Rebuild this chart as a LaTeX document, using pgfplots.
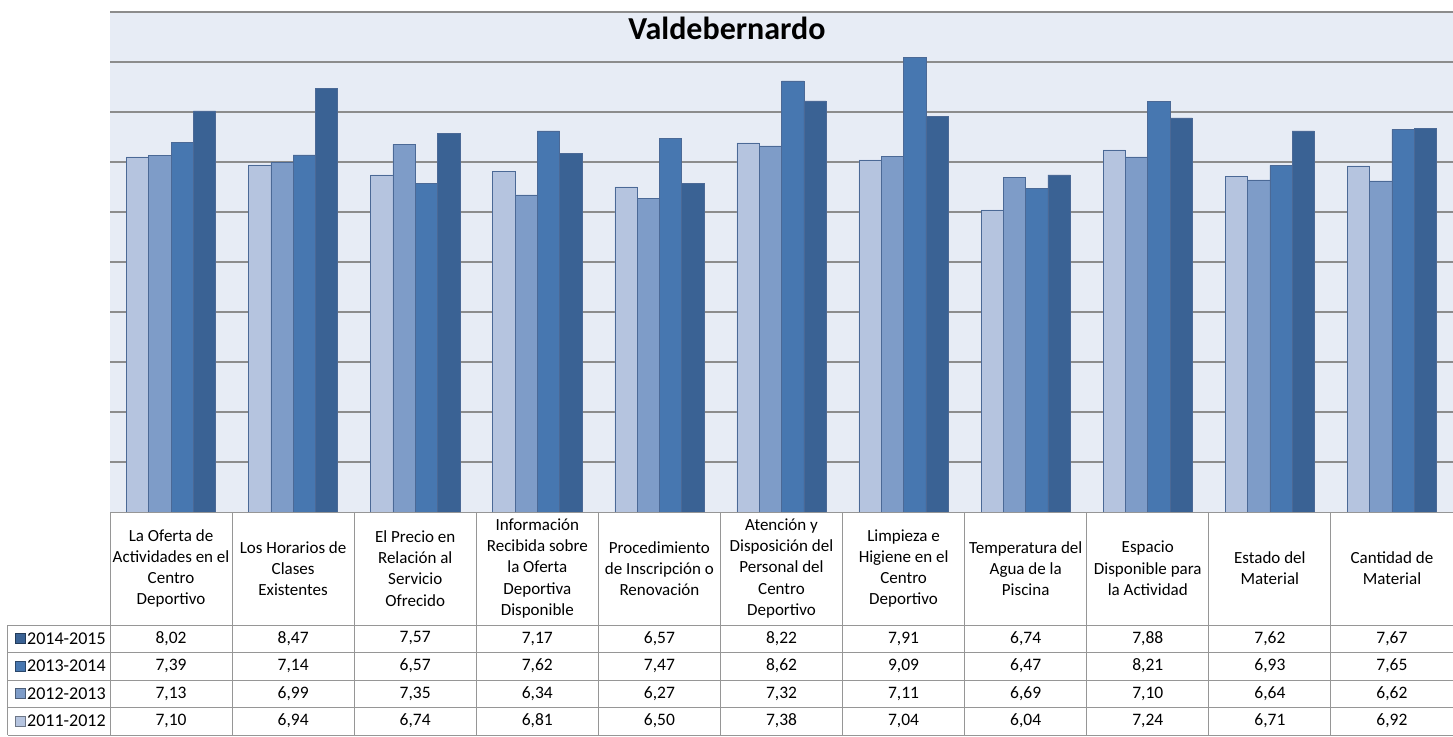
\documentclass[border=0pt]{standalone}
\usepackage{pgfplots}
\usepackage{pgfplotstable}
\pgfplotsset{compat=1.18}
\usepackage{fontspec}
\setmainfont{Carlito}
\definecolor{cA}{RGB}{181,196,223}
\definecolor{cB}{RGB}{126,156,200}
\definecolor{cC}{RGB}{71,119,176}
\definecolor{cD}{RGB}{58,98,148}
\definecolor{bg}{RGB}{231,236,245}
\definecolor{gridc}{RGB}{140,140,140}
\definecolor{tabc}{RGB}{150,150,150}
\definecolor{edge}{RGB}{75,105,150}

\pgfplotstableread{
x  y11  y12  y13  y14
0  7.10 7.13 7.39 8.02
1  6.94 6.99 7.14 8.47
2  6.74 7.35 6.57 7.57
3  6.81 6.34 7.62 7.17
4  6.50 6.27 7.47 6.57
5  7.38 7.32 8.62 8.22
6  7.04 7.11 9.09 7.91
7  6.04 6.69 6.47 6.74
8  7.24 7.10 8.21 7.88
9  6.71 6.64 6.93 7.62
10 6.92 6.62 7.65 7.67
}\datatable

\begin{document}
\begin{tikzpicture}
\path[use as bounding box] (-110pt,-224pt) rectangle (1343pt,512pt);
\begin{axis}[
  at={(0pt,0pt)}, anchor=south west,
  scale only axis, width=1343pt, height=500pt,
  xmin=-0.5, xmax=10.5, ymin=0, ymax=10,
  ybar=0pt, bar width=22.3pt,
  axis background/.style={fill=bg},
  axis line style={draw=none},
  xtick=\empty, ytick={1,...,10}, yticklabels={}, major tick length=0pt,
  ymajorgrids, grid style={gridc, line width=1.3pt},
  clip=false,
  every axis plot/.append style={line width=0.6pt},
]
\addplot[fill=cA, draw=edge] table[x=x,y=y11]{\datatable};
\addplot[fill=cB, draw=edge] table[x=x,y=y12]{\datatable};
\addplot[fill=cC, draw=edge] table[x=x,y=y13]{\datatable};
\addplot[fill=cD, draw=edge] table[x=x,y=y14]{\datatable};
\end{axis}

\node[font=\bfseries\fontsize{32}{38}\selectfont] at (617pt,484pt) {Valdebernardo};

% table grid
\begin{scope}[draw=tabc, line width=1pt]
\foreach \i in {0,...,11} \draw ({\i*122.09pt},0pt) -- ({\i*122.09pt},-223pt);
\draw (0pt,0pt) -- (1343pt,0pt);
\foreach \yy in {-113pt,-140.5pt,-168pt,-195.5pt,-223pt} \draw (-102pt,\yy) -- (1343pt,\yy);
\draw (-102pt,-113pt) -- (-102pt,-223pt);
\end{scope}

% header
\foreach \t [count=\k from 0] in {%
  {La Oferta de\\Actividades en el\\Centro\\Deportivo},
  {Los Horarios de\\Clases\\Existentes},
  {El Precio en\\Relación al\\Servicio\\Ofrecido},
  {Información\\Recibida sobre\\la Oferta\\Deportiva\\Disponible},
  {Procedimiento\\de Inscripción o\\Renovación},
  {Atención y\\Disposición del\\Personal del\\Centro\\Deportivo},
  {Limpieza e\\Higiene en el\\Centro\\Deportivo},
  {Temperatura del\\Agua de la\\Piscina},
  {Espacio\\Disponible para\\la Actividad},
  {Estado del\\Material},
  {Cantidad de\\Material}}
  \node[align=center, font=\fontsize{17}{21.3}\selectfont, inner sep=0pt] at ({(\k+0.5)*122.09pt}, -56.5pt) {\t};

% values
\foreach \col/\yc in {y14/-126.5pt,y13/-154pt,y12/-181.5pt,y11/-209pt}{
  \foreach \i in {0,...,10}{
    \pgfplotstablegetelem{\i}{\col}\of\datatable
    \let\v\pgfplotsretval
    \node[font=\fontsize{17.5}{20}\selectfont, inner sep=0pt] at ({(\i+0.5)*122.09pt}, \yc) {\pgfmathprintnumber[fixed,fixed zerofill,precision=2,use comma,assume math mode=true]{\v}};
  }
}

% legend keys
\foreach \c/\lab/\yc in {cD/2014-2015/-126.5pt, cC/2013-2014/-154pt, cB/2012-2013/-181.5pt, cA/2011-2012/-209pt}{
  \draw[fill=\c, draw=\c!60!black, line width=0.8pt] (-95pt,\yc-5pt) rectangle (-85pt,\yc+5pt);
  \node[anchor=west, inner sep=0pt, font=\fontsize{18}{20}\selectfont] at (-83pt,\yc) {\lab};
}
\end{tikzpicture}
\end{document}
